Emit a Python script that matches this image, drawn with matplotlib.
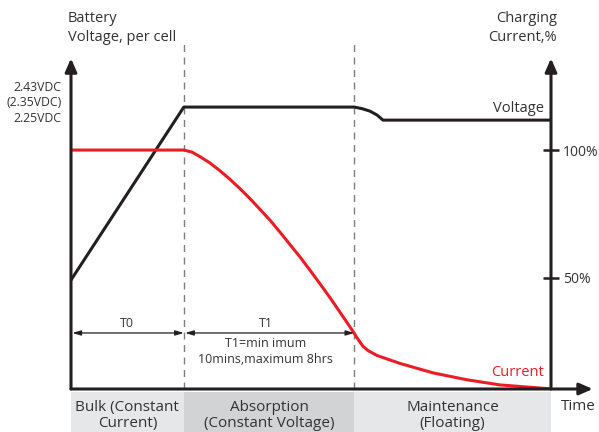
import matplotlib.pyplot as plt
import matplotlib.transforms as mtransforms

plt.rcParams['font.family'] = ['Open Sans', 'DejaVu Sans']

# time axis 0..100, y axis in charging current %
phase_edges = [0, 23.5, 59.0, 100]
phase_names = ['Bulk (Constant\nCurrent)', 'Absorption\n(Constant Voltage)', 'Maintenance\n(Floating)']
phase_colors = ['#e6e7e8', '#d1d3d4', '#e6e7e8']

volt_t = [0, 23.5, 59.0, 60.6, 62.3, 63.75, 65.0, 100]
volt_y = [49.2, 116.8, 116.8, 116.2, 115.2, 113.7, 111.7, 111.7]

curr_t = [0, 23.54, 25.2, 26.88, 29.0, 31.04, 33.1, 35.21, 37.3, 39.38, 41.5, 43.54,
          45.6, 47.71, 49.8, 51.88, 54.0, 56.04, 57.5, 58.96,
          59.58, 60.83, 61.9, 63.75, 68.54, 75.42, 82.5, 89.38, 100]
curr_y = [100, 100, 99.2, 97.4, 94.9, 91.9, 88.6, 84.9, 81.0, 76.8, 72.5, 67.9,
          63.1, 58.2, 53.0, 47.7, 42.2, 36.6, 32.6, 28.5,
          26.6, 23.3, 21.6, 19.7, 16.6, 12.9, 10.2, 8.2, 6.64]

left_ticks = [125.0, 119.1, 112.9]
left_labels = ['2.43VDC', '(2.35VDC)', '2.25VDC']
right_ticks = [100, 50]
right_labels = ['100%', '50%']

black = '#231f20'
red = '#ed1c24'
grey_txt = '#333333'

fig = plt.figure(figsize=(5.99, 4.32), dpi=100)
ax = fig.add_axes([71/599, 43/432, 480/599, 329/432])
ax.set_xlim(0, 100)
ax.set_ylim(6.6, 135.2)
for s in ax.spines.values():
    s.set_visible(False)
ax.set_xticks([])

ax.set_yticks(left_ticks)
ax.set_yticklabels(left_labels, fontsize=8.8, color=grey_txt)
ax.tick_params(axis='y', length=0, pad=7)

ax2 = ax.twinx()
ax2.set_ylim(ax.get_ylim())
for s in ax2.spines.values():
    s.set_visible(False)
ax2.set_yticks(right_ticks)
ax2.set_yticklabels(right_labels, fontsize=10, color=grey_txt)
ax2.tick_params(axis='y', direction='inout', length=11, width=1.8, color=black, pad=3)

# axes with arrows
arr = dict(arrowstyle='-|>,head_length=0.8,head_width=0.35', color=black, lw=2.2, shrinkA=0, shrinkB=0)
ax.annotate('', xy=(0, 1.005), xytext=(0, 0), xycoords='axes fraction', arrowprops=arr)
ax.annotate('', xy=(1, 1.005), xytext=(1, 0), xycoords='axes fraction', arrowprops=arr)
ax.annotate('', xy=(1.087, 0), xytext=(0, 0), xycoords='axes fraction', arrowprops=arr)

trans = mtransforms.blended_transform_factory(ax.transData, ax.transAxes)

# phase separators
for t in phase_edges[1:3]:
    ax.plot([t, t], [0.0, 1.05], transform=trans,
            color='#7f7f7f', lw=1, ls=(0, (5, 4)), clip_on=False)

ax.plot(volt_t, volt_y, color=black, lw=2.2, solid_capstyle='butt', solid_joinstyle='round')
ax.plot(curr_t, curr_y, color=red, lw=2.2, solid_capstyle='butt', solid_joinstyle='round')

# phase bands below the plot
for i, name in enumerate(phase_names):
    x0, x1 = phase_edges[i], phase_edges[i + 1]
    ax.add_patch(plt.Rectangle((x0, -0.2), x1 - x0, 0.19, transform=trans,
                               facecolor=phase_colors[i], edgecolor='none', clip_on=False))
    ax.text((x0 + x1) / 2, -0.032, name, transform=trans, ha='center', va='top',
            fontsize=11, color=grey_txt, linespacing=1.15)

# T0 / T1 spans
span = dict(arrowstyle='<|-|>,head_length=0.5,head_width=0.15', color=black, lw=0.9, shrinkA=0, shrinkB=1)
ax.annotate('', xy=(phase_edges[0], 28.5), xytext=(phase_edges[1], 28.5), arrowprops=span)
ax.annotate('', xy=(phase_edges[1], 28.5), xytext=(phase_edges[2], 28.5), arrowprops=span)
ax.text(11.7, 32.3, 'T0', ha='center', va='center', fontsize=9, color=grey_txt)
ax.text(40.6, 32.3, 'T1', ha='center', va='center', fontsize=9, color=grey_txt)
ax.text(40.6, 24.3, 'T1=min imum', ha='center', va='center', fontsize=9, color=grey_txt)
ax.text(40.6, 18.0, '10mins,maximum 8hrs', ha='center', va='center', fontsize=9, color=grey_txt)

ax.text(98.5, 116.4, 'Voltage', ha='right', va='center', fontsize=10.5, color=grey_txt)
ax.text(98.5, 13.0, 'Current', ha='right', va='center', fontsize=10.5, color=red)

fig.text(68/599, 1 - 28/432, 'Battery\nVoltage, per cell', ha='left', va='center',
         fontsize=10.5, color=grey_txt, linespacing=1.35)
fig.text(557/599, 1 - 28/432, 'Charging\nCurrent,%', ha='right', va='center',
         fontsize=10.5, color=grey_txt, linespacing=1.35)
fig.text(578/599, 1 - 407/432, 'Time', ha='center', va='center', fontsize=11, color=grey_txt)

fig.savefig('out.png', dpi=100)
